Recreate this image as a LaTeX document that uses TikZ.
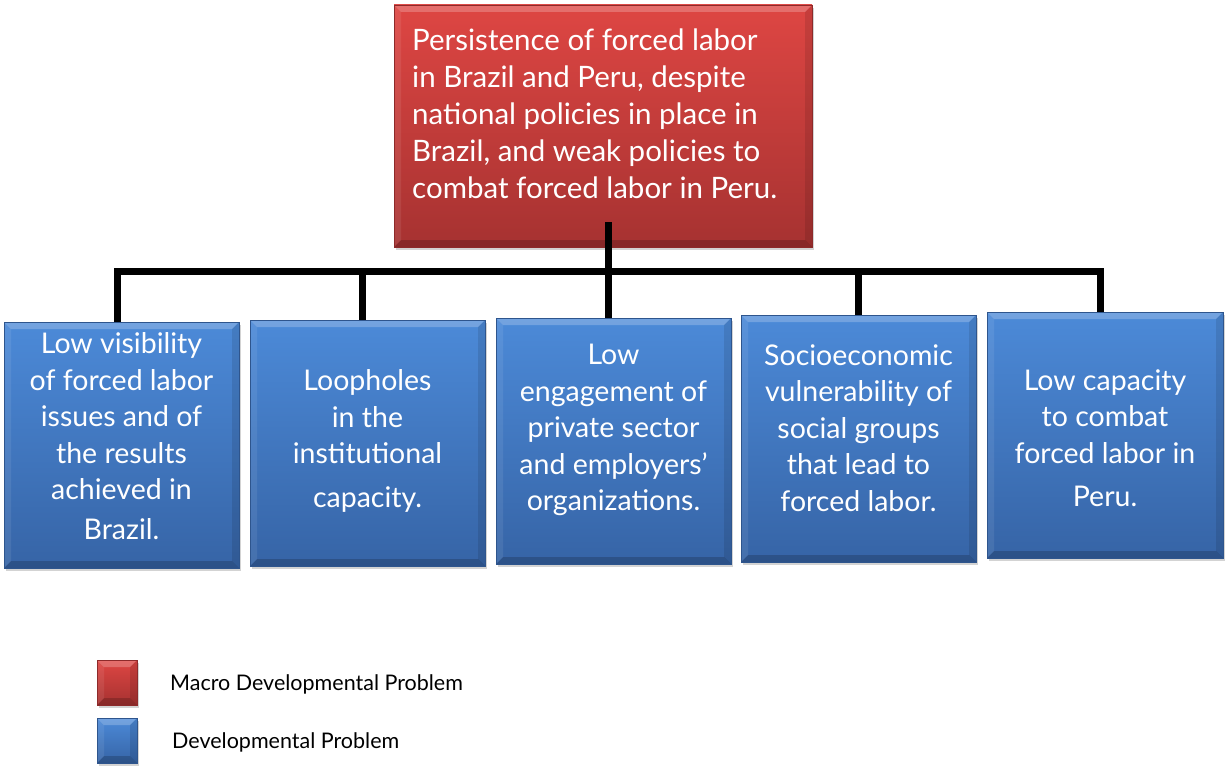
\documentclass[tikz,border=0pt]{standalone}
\usepackage{fontspec}
\setmainfont{Lato}
\usetikzlibrary{shadows}
\definecolor{redT}{HTML}{DE4643}
\definecolor{redB}{HTML}{A63231}
\definecolor{blueT}{HTML}{4C8AD8}
\definecolor{blueB}{HTML}{3664A6}
\tikzset{
  bevel/.style={path picture={
    \fill[white,opacity=0.22] (path picture bounding box.north west) -- (path picture bounding box.north east)
      -- ([shift={(-7pt,-7pt)}]path picture bounding box.north east) -- ([shift={(7pt,-7pt)}]path picture bounding box.north west) -- cycle;
    \fill[black,opacity=0.18] (path picture bounding box.south west) -- (path picture bounding box.south east)
      -- ([shift={(-7pt,7pt)}]path picture bounding box.south east) -- ([shift={(7pt,7pt)}]path picture bounding box.south west) -- cycle;
    \fill[white,opacity=0.08] (path picture bounding box.north west) -- (path picture bounding box.south west)
      -- ([shift={(7pt,7pt)}]path picture bounding box.south west) -- ([shift={(7pt,-7pt)}]path picture bounding box.north west) -- cycle;
    \fill[black,opacity=0.10] (path picture bounding box.north east) -- (path picture bounding box.south east)
      -- ([shift={(-7pt,7pt)}]path picture bounding box.south east) -- ([shift={(-7pt,-7pt)}]path picture bounding box.north east) -- cycle;
  }},
  boxshadow/.style={drop shadow={opacity=0.35, shadow xshift=2pt, shadow yshift=-3pt}},
  macrobox/.style={rectangle, inner sep=0pt, top color=redT, bottom color=redB, draw=redB!85!black, line width=0.6pt, bevel, boxshadow},
  devbox/.style={rectangle, inner sep=0pt, top color=blueT, bottom color=blueB, draw=blueB!85!black, line width=0.6pt, bevel, boxshadow},
  boxtext/.style={text=white, inner sep=0pt, align=center, font=\fontsize{28.5}{36.5}\selectfont},
  toptext/.style={text=white, inner sep=0pt, align=left, font=\fontsize{29.5}{37}\selectfont},
  legtext/.style={text=black, inner sep=0pt, anchor=west, font=\fontsize{21.5}{24}\selectfont},
  conn/.style={line width=7pt, draw=black, line join=miter},
}
\begin{document}
\begin{tikzpicture}[x=1pt,y=-1pt]
\useasboundingbox (0,0) rectangle (1225,765);

% top box
\node[macrobox, minimum width=418pt, minimum height=242pt] (top) at (603,126) {};
\node[toptext, anchor=north west] (toptxt) at (412,29) {Persistence of forced labor\\in Brazil and Peru, despite\\national policies in place in\\Brazil, and weak policies to\\combat forced labor in Peru.};

% bottom boxes
\node[devbox, minimum width=235pt, minimum height=246pt] (b1) at (121.5,445) {};
\node[devbox, minimum width=235pt, minimum height=246pt] (b2) at (367.5,443) {};
\node[devbox, minimum width=235pt, minimum height=246pt] (b3) at (613.5,441) {};
\node[devbox, minimum width=235pt, minimum height=247pt] (b4) at (858.5,438.5) {};
\node[devbox, minimum width=236pt, minimum height=246pt] (b5) at (1105,435) {};

\node[boxtext] (t1) at (121.5,436) {Low visibility\\of forced labor\\issues and of\\the results\\achieved in\\[3pt]Brazil.};
\node[boxtext] (t2) at (367.5,441) {Loopholes\\in the\\institutional\\[7pt]capacity.};
\node[boxtext] (t3) at (613.5,430) {Low\\engagement of\\private sector\\and employers’\\organizations.};
\node[boxtext] (t4) at (858.5,428) {Socioeconomic\\vulnerability of\\social groups\\that lead to\\forced labor.};
\node[boxtext] (t5) at (1105,438) {Low capacity\\to combat\\forced labor in\\[7pt]Peru.};

% connectors
\coordinate (s) at (608,222);
\coordinate (j1) at (117,271);
\coordinate (j2) at (362,271);
\coordinate (j3) at (608,271);
\coordinate (j4) at (858,271);
\coordinate (j5) at (1100,271);
\draw[conn] (j1 |- b1.north) -- (j1) -- (j5) -- (j5 |- b5.north);
\draw[conn] (s) -- (j3) -- (j3 |- b3.north);
\draw[conn] (j2) -- (j2 |- b2.north);
\draw[conn] (j4) -- (j4 |- b4.north);

% legend
\node[macrobox, minimum width=40pt, minimum height=45pt] (lred) at (117,682.5) {};
\node[devbox, minimum width=40pt, minimum height=45pt] (lblue) at (117,740.5) {};
\node[legtext] (lredt) at (170,684) {Macro Developmental Problem};
\node[legtext] (lbluet) at (172,742) {Developmental Problem};
\end{tikzpicture}
\end{document}
